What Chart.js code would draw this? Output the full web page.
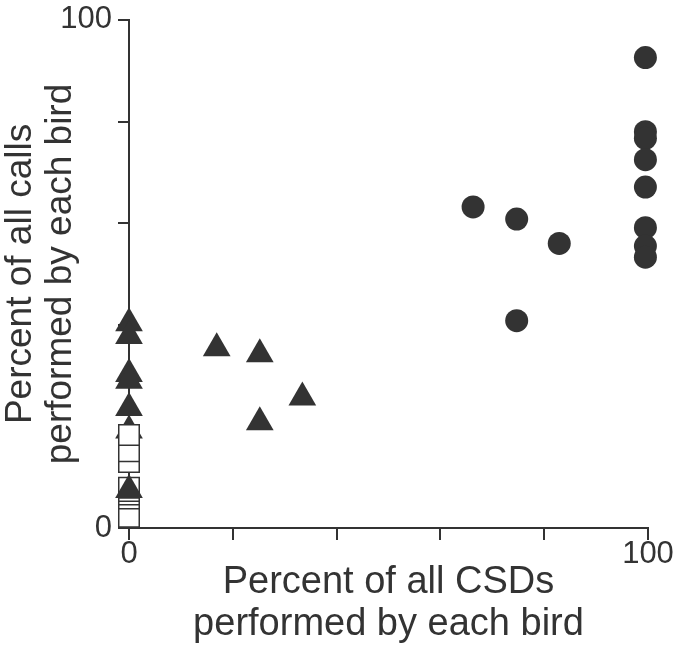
<!DOCTYPE html>
<html>
<head>
<meta charset="utf-8">
<script src="https://cdn.jsdelivr.net/npm/chart.js@4/dist/chart.umd.min.js"></script>
<style>
  html, body { margin: 0; padding: 0; background: #fff; }
  #wrap { width: 677px; height: 655px; }
</style>
</head>
<body>
<div id="wrap"><canvas id="scatterChart"></canvas></div>
<script>
// values (percent)
const circleX = [99.5, 99.5, 99.5, 99.5, 99.5, 99.5, 99.5, 99.5, 66.3, 74.7, 82.9, 74.7];
const circleY = [92.6, 78.0, 76.7, 72.5, 67.1, 59.1, 55.5, 53.3, 63.2, 60.8, 56.0, 40.8];

const triangleX = [0, 0, 0, 0, 0, 0, 16.9, 25.2, 33.4, 25.2];
const triangleY = [40.3, 37.8, 30.3, 29.0, 23.6, 19.2, 35.4, 34.2, 25.7, 20.8];

// one triangle sits on top of the squares
const frontTriangleX = [0];
const frontTriangleY = [7.5];

const squareX = [0, 0, 0, 0, 0, 0, 0, 0];
const squareY = [2.2, 5.8, 6.6, 7.3, 7.9, 13.0, 15.1, 18.3];

const tickLabels = ['0', '', '', '', '', '100'];
const xTitle = ['Percent of all CSDs', 'performed by each bird'];
const yTitle = ['Percent of all calls', 'performed by each bird'];

const ink = '#333333';

function toPoints(xs, ys) {
  return xs.map((x, i) => ({ x: x, y: ys[i] }));
}

const ctx = document.getElementById('scatterChart');
const myChart = new Chart(ctx, {
  type: 'scatter',
  data: {
    datasets: [
      {
        label: 'circles',
        data: toPoints(circleX, circleY),
        pointStyle: 'circle',
        radius: 11.5,
        backgroundColor: ink,
        borderWidth: 0,
        order: 0,
        clip: false
      },
      {
        label: 'front triangle',
        data: toPoints(frontTriangleX, frontTriangleY),
        pointStyle: 'triangle',
        radius: 16,
        backgroundColor: ink,
        borderWidth: 0,
        order: 1,
        clip: false
      },
      {
        label: 'squares',
        data: toPoints(squareX, squareY),
        pointStyle: 'rect',
        radius: 14.5,
        backgroundColor: '#ffffff',
        borderColor: ink,
        borderWidth: 1.5,
        order: 2,
        clip: false
      },
      {
        label: 'triangles',
        data: toPoints(triangleX, triangleY),
        pointStyle: 'triangle',
        radius: 16,
        backgroundColor: ink,
        borderWidth: 0,
        order: 3,
        clip: false
      }
    ]
  },
  options: {
    responsive: true,
    maintainAspectRatio: false,
    animation: false,
    layout: { padding: { top: 18, right: 29, left: 0, bottom: 0 } },
    plugins: {
      legend: { display: false },
      tooltip: { enabled: false }
    },
    scales: {
      x: {
        type: 'linear',
        min: 0,
        max: 100,
        border: { color: ink, width: 2 },
        grid: { drawOnChartArea: false, color: ink, lineWidth: 2, tickLength: 12 },
        ticks: {
          stepSize: 20,
          maxRotation: 0,
          padding: -4,
          color: ink,
          font: { family: 'Liberation Sans', size: 31 },
          callback: (value, index) => tickLabels[index]
        },
        title: {
          display: true,
          text: xTitle,
          color: ink,
          font: { family: 'Liberation Sans', size: 38, lineHeight: 1.12 },
          padding: { top: 0, bottom: 9 }
        },
        afterFit: (scale) => { scale.height = 127; }
      },
      y: {
        type: 'linear',
        min: 0,
        max: 100,
        border: { color: ink, width: 2 },
        grid: { drawOnChartArea: false, color: ink, lineWidth: 2, tickLength: 11 },
        ticks: {
          stepSize: 20,
          padding: 6,
          color: ink,
          font: { family: 'Liberation Sans', size: 31, lineHeight: 0.9 },
          callback: (value, index) => tickLabels[index]
        },
        title: {
          display: true,
          text: yTitle,
          color: ink,
          font: { family: 'Liberation Sans', size: 37, lineHeight: 1.1 },
          padding: { top: 0, bottom: 0 }
        },
        afterFit: (scale) => { scale.width = 129; }
      }
    }
  }
});
</script>
</body>
</html>
